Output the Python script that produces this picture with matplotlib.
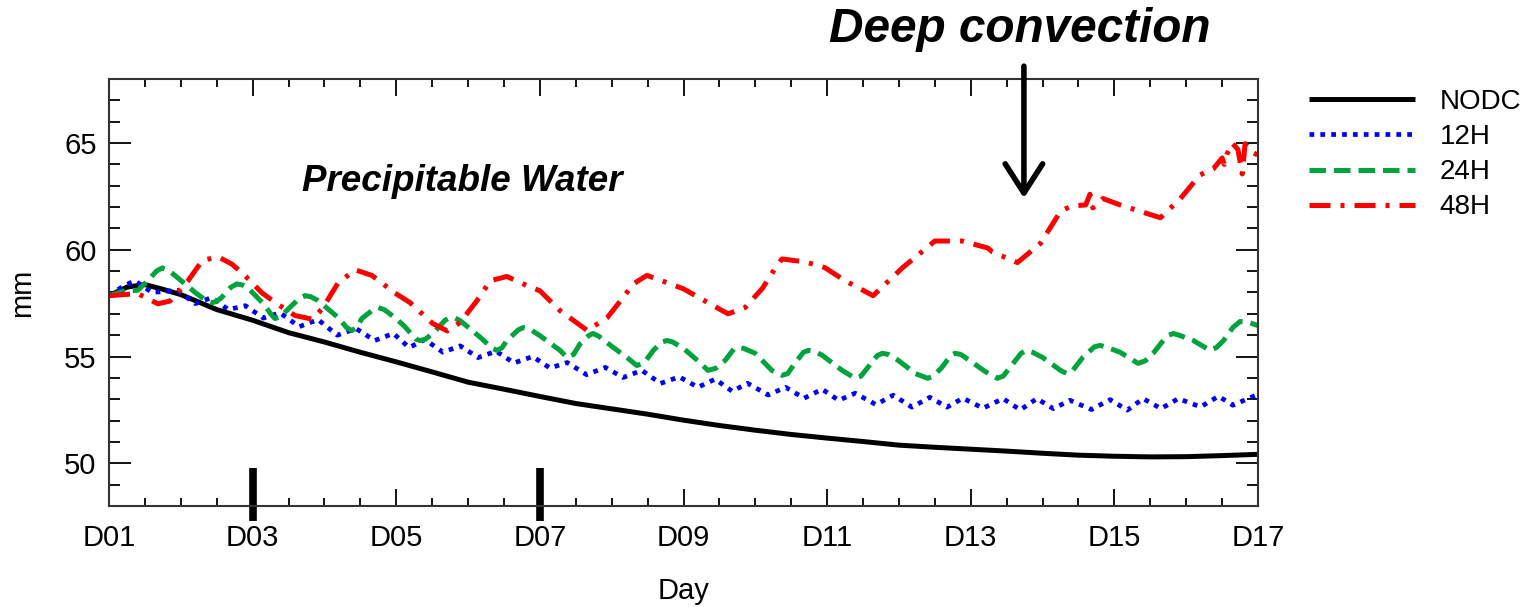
import matplotlib
matplotlib.use("Agg")
import matplotlib.pyplot as plt
from matplotlib.ticker import MultipleLocator, FixedLocator

# ---------------------------------------------------------------
# Donnees (jour, mm)
# ---------------------------------------------------------------
jours_nodc = [1.0, 1.25, 1.5, 1.75, 2.0, 2.5, 3.0, 3.5, 4.0, 4.5, 5.0, 5.5, 6.0,
              6.5, 7.0, 7.5, 8.0, 8.5, 9.0, 9.5, 10.0, 10.5, 11.0, 11.5, 12.0,
              12.5, 13.0, 13.5, 14.0, 14.5, 15.0, 15.5, 16.0, 16.5, 17.0]
pw_nodc = [57.85, 58.25, 58.37, 58.15, 57.9, 57.2, 56.7, 56.12, 55.68, 55.2,
           54.75, 54.28, 53.8, 53.47, 53.13, 52.8, 52.55, 52.3, 52.02, 51.77,
           51.55, 51.35, 51.18, 51.02, 50.85, 50.75, 50.66, 50.57, 50.47, 50.38,
           50.33, 50.3, 50.31, 50.36, 50.42]

jours_12h = [1.0, 1.2, 1.36, 1.6, 1.95, 2.2, 2.43, 2.66, 2.9, 3.15, 3.38, 3.65,
             3.91, 4.18, 4.44, 4.7, 4.96, 5.18, 5.4, 5.65, 5.89, 6.14, 6.39,
             6.64, 6.9, 7.14, 7.38, 7.65, 7.91, 8.16, 8.42, 8.68, 8.94, 9.2,
             9.44, 9.68, 9.89, 10.18, 10.42, 10.68, 10.93, 11.16, 11.39, 11.68,
             11.92, 12.18, 12.43, 12.67, 12.89, 13.17, 13.45, 13.69, 13.92,
             14.15, 14.38, 14.68, 14.94, 15.18, 15.4, 15.65, 15.89, 16.2, 16.45,
             16.65, 17.0]
pw_12h = [57.85, 58.3, 58.55, 58.0, 58.1, 57.48, 57.76, 57.2, 57.38, 56.8,
          57.05, 56.4, 56.73, 56.0, 56.31, 55.75, 56.08, 55.42, 55.8, 55.2,
          55.5, 54.95, 55.25, 54.7, 55.0, 54.46, 54.72, 54.15, 54.49, 54.02,
          54.35, 53.74, 54.05, 53.56, 53.94, 53.37, 53.75, 53.2, 53.56, 53.05,
          53.47, 52.95, 53.28, 52.75, 53.19, 52.63, 53.09, 52.63, 53.05, 52.58,
          53.03, 52.5, 53.03, 52.56, 52.95, 52.52, 52.98, 52.49, 53.03, 52.56,
          53.03, 52.64, 53.14, 52.72, 53.23]

jours_24h = [1.0, 1.22, 1.4, 1.54, 1.66, 1.74, 1.82, 1.88, 2.06, 2.2, 2.36, 2.43,
             2.5, 2.57, 2.7, 2.78, 2.86, 2.94, 3.17, 3.25, 3.31, 3.38, 3.5, 3.65,
             3.73, 3.81, 3.91, 4.19, 4.31, 4.38, 4.45, 4.52, 4.68, 4.75, 4.83,
             4.98, 5.12, 5.27, 5.33, 5.4, 5.51, 5.68, 5.75, 5.82, 5.89, 6.17,
             6.33, 6.4, 6.47, 6.54, 6.7, 6.77, 6.85, 7.0, 7.28, 7.38, 7.47, 7.56,
             7.68, 7.74, 7.82, 8.02, 8.21, 8.35, 8.45, 8.58, 8.7, 8.77, 8.85,
             9.0, 9.2, 9.34, 9.45, 9.58, 9.7, 9.76, 9.84, 10.0, 10.23, 10.37,
             10.45, 10.55, 10.67, 10.74, 10.82, 10.93, 11.21, 11.39, 11.47,
             11.57, 11.7, 11.77, 11.85, 11.99, 12.23, 12.4, 12.48, 12.6, 12.72,
             12.78, 12.86, 13.02, 13.2, 13.37, 13.45, 13.55, 13.7, 13.78, 13.86,
             14.0, 14.25, 14.34, 14.42, 14.56, 14.72, 14.8, 14.88, 15.08, 15.33,
             15.43, 15.54, 15.68, 15.76, 15.82, 15.9, 16.1, 16.33, 16.42, 16.52,
             16.65, 16.75, 16.85, 17.0]
pw_24h = [57.85, 58.08, 58.1, 58.55, 59.0, 59.15, 59.05, 58.9, 58.4, 58.0, 57.6,
          57.52, 57.58, 57.77, 58.25, 58.4, 58.35, 58.2, 57.4, 57.0, 56.78,
          56.85, 57.24, 57.72, 57.85, 57.8, 57.62, 56.83, 56.35, 56.22, 56.35,
          56.78, 57.2, 57.29, 57.2, 56.83, 56.4, 55.82, 55.75, 55.8, 56.08,
          56.7, 56.83, 56.8, 56.68, 55.9, 55.4, 55.29, 55.4, 55.75, 56.25,
          56.36, 56.3, 55.98, 55.29, 54.95, 55.1, 55.6, 55.98, 56.08, 55.95,
          55.43, 54.96, 54.58, 54.7, 55.29, 55.68, 55.75, 55.68, 55.38, 54.8,
          54.35, 54.45, 54.82, 55.35, 55.43, 55.38, 55.15, 54.35, 54.12, 54.2,
          54.68, 55.2, 55.29, 55.25, 55.06, 54.35, 53.98, 54.08, 54.5, 55.05,
          55.15, 55.1, 54.82, 54.2, 53.98, 54.08, 54.5, 55.05, 55.15, 55.1,
          54.73, 54.3, 53.98, 54.08, 54.5, 55.15, 55.29, 55.2, 54.96, 54.35,
          54.2, 54.35, 54.96, 55.45, 55.52, 55.45, 55.2, 54.68, 54.8, 55.15,
          55.75, 56.0, 56.08, 56.0, 55.75, 55.29, 55.42, 55.75, 56.36, 56.64,
          56.62, 56.45]

jours_48h = [1.0, 1.4, 1.68, 1.85, 2.1, 2.3, 2.52, 2.71, 2.87, 3.13, 3.34, 3.59,
             3.83, 3.97, 4.19, 4.43, 4.66, 4.98, 5.19, 5.51, 5.71, 5.89, 6.12,
             6.31, 6.54, 6.82, 7.0, 7.28, 7.66, 7.94, 8.16, 8.3, 8.49, 8.77,
             9.0, 9.3, 9.62, 9.86, 10.1, 10.27, 10.37, 10.7, 10.97, 11.25,
             11.64, 12.05, 12.5, 12.88, 13.24, 13.3, 13.65, 13.97, 14.25, 14.4,
             14.6, 14.66, 14.7, 14.84, 15.08, 15.36, 15.64, 15.92, 16.19, 16.38,
             16.5, 16.53, 16.57, 16.64, 16.72, 16.78, 16.82, 16.9, 17.0]
pw_48h = [57.85, 57.95, 57.47, 57.6, 58.55, 59.5, 59.67, 59.33, 58.87, 57.98,
          57.47, 56.92, 56.75, 57.24, 58.45, 59.06, 58.8, 57.98, 57.53, 56.54,
          56.2, 56.6, 57.6, 58.55, 58.75, 58.32, 58.08, 57.15, 56.22, 56.83,
          57.77, 58.4, 58.8, 58.46, 58.17, 57.6, 57.0, 57.3, 58.2, 59.1, 59.57,
          59.43, 59.16, 58.55, 57.85, 59.16, 60.41, 60.41, 60.08, 59.9, 59.4,
          60.3, 61.8, 62.05, 62.1, 62.6, 61.96, 62.4, 62.1, 61.8, 61.5, 62.4,
          63.5, 63.8, 64.3, 64.0, 64.5, 65.0, 64.7, 63.55, 64.97, 64.6, 64.43]

noms_series = ["NODC", "12H", "24H", "48H"]
jours_ticks = [1, 3, 5, 7, 9, 11, 13, 15, 17]
labels_ticks = ["D01", "D03", "D05", "D07", "D09", "D11", "D13", "D15", "D17"]
jours_marques = [3, 7]

# ---------------------------------------------------------------
# Figure
# ---------------------------------------------------------------
plt.rcParams["font.family"] = ["Liberation Sans", "DejaVu Sans"]
fig = plt.figure(figsize=(15.31, 6.07), dpi=100)
ax = fig.add_axes([0.0712, 0.1664, 0.7505, 0.7035])

ax.plot(jours_nodc, pw_nodc, color="black", lw=3.6, label=noms_series[0],
        solid_capstyle="butt")
ax.plot(jours_12h, pw_12h, color="#0000ff", lw=3.4, dashes=(1.0, 1.3),
        label=noms_series[1])
ax.plot(jours_24h, pw_24h, color="#00a33c", lw=3.6, dashes=(3.3, 1.6),
        label=noms_series[2])
ax.plot(jours_48h, pw_48h, color="#ff0000", lw=3.6, dashes=(4.2, 2.0, 0.8, 2.0),
        label=noms_series[3])

# gros traits noirs sur l'axe des x
for j in jours_marques:
    ax.plot([j, j], [49.8, 47.3], color="black", lw=5.5, clip_on=False,
            solid_capstyle="butt")

ax.set_xlim(1, 17)
ax.set_ylim(48, 68)
ax.xaxis.set_major_locator(FixedLocator(jours_ticks))
ax.set_xticklabels(labels_ticks)
ax.xaxis.set_minor_locator(MultipleLocator(0.5))
ax.yaxis.set_major_locator(MultipleLocator(5))
ax.yaxis.set_minor_locator(MultipleLocator(1))

ax.tick_params(axis="x", which="major", direction="in", length=12, width=1.3,
               top=True, labelsize=21, pad=13, colors="black")
ax.tick_params(axis="x", which="minor", direction="in", length=6, width=1.3,
               top=True)
ax.tick_params(axis="y", which="major", direction="in", length=16, width=1.3,
               right=True, labelsize=21, pad=9)
ax.tick_params(axis="y", which="minor", direction="in", length=8, width=1.3,
               right=True)
for s in ax.spines.values():
    s.set_linewidth(1.5)
    s.set_color("#333333")

ax.set_xlabel("Day", fontsize=21, labelpad=18)
ax.set_ylabel("mm", fontsize=21, labelpad=20)

ax.text(3.69, 63.2, "Precipitable Water", fontsize=26.5, fontweight="bold",
        fontstyle="italic", va="center", ha="left")

# fleche + titre
ax.annotate("", xy=(13.74, 62.42), xytext=(13.74, 68.6), textcoords="data",
            annotation_clip=False,
            arrowprops=dict(arrowstyle="->,head_length=0.7,head_width=0.45",
                            lw=4, color="black", mutation_scale=30,
                            shrinkA=0, shrinkB=0))
fig.text(1019.5 / 1531, 1 - 29 / 607, "Deep convection", fontsize=34.4,
         fontweight="bold", fontstyle="italic", ha="center", va="center")

ax.legend(loc="upper left", bbox_to_anchor=(1309 / 1531, 1 - 89 / 607),
          bbox_transform=fig.transFigure, frameon=False, borderpad=0,
          borderaxespad=0, handlelength=3.8, handletextpad=0.9,
          labelspacing=0.33, fontsize=20)

plt.savefig("out.png", dpi=100)
